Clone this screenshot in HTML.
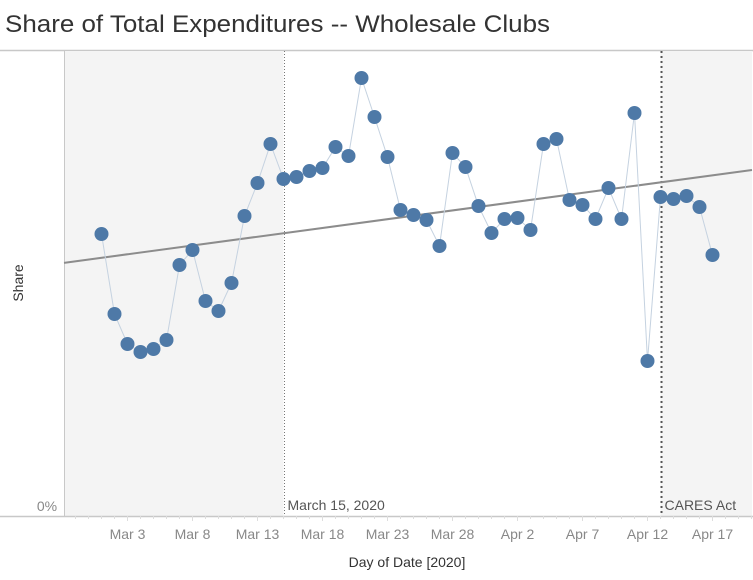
<!DOCTYPE html>
<html><head><meta charset="utf-8"><style>
body{margin:0;background:#fff;}
svg{display:block;font-family:"Liberation Sans",sans-serif;}
</style></head><body>
<svg id="chart" width="753" height="580">
<text x="5" y="32" font-size="24" fill="#333" textLength="545" lengthAdjust="spacingAndGlyphs">Share of Total Expenditures -- Wholesale Clubs</text>
<line x1="0" y1="50.5" x2="753" y2="50.5" stroke="#c8c8c8" stroke-width="1.5"/>
<g id="plot"></g>
<text x="47" y="511" font-size="14" fill="#888" text-anchor="middle">0%</text>
<text transform="translate(23,283) rotate(-90)" font-size="14" fill="#333" text-anchor="middle">Share</text>
<text x="407" y="567" font-size="14" fill="#333" text-anchor="middle">Day of Date [2020]</text>
</svg>
<script>
const dayLabels=["Mar 1","Mar 2","Mar 3","Mar 4","Mar 5","Mar 6","Mar 7","Mar 8","Mar 9","Mar 10","Mar 11","Mar 12","Mar 13","Mar 14","Mar 15","Mar 16","Mar 17","Mar 18","Mar 19","Mar 20","Mar 21","Mar 22","Mar 23","Mar 24","Mar 25","Mar 26","Mar 27","Mar 28","Mar 29","Mar 30","Mar 31","Apr 1","Apr 2","Apr 3","Apr 4","Apr 5","Apr 6","Apr 7","Apr 8","Apr 9","Apr 10","Apr 11","Apr 12","Apr 13","Apr 14","Apr 15","Apr 16","Apr 17"];
const shareValues=[0.282,0.202,0.172,0.164,0.167,0.176,0.251,0.266,0.215,0.205,0.233,0.300,0.333,0.372,0.337,0.339,0.345,0.348,0.369,0.360,0.438,0.399,0.359,0.306,0.301,0.296,0.270,0.363,0.349,0.310,0.283,0.297,0.298,0.286,0.372,0.377,0.316,0.311,0.297,0.328,0.297,0.403,0.155,0.319,0.317,0.320,0.309,0.261];
const tickIndices=[2,7,12,17,22,27,32,37,42,47];
const tickLabels=["Mar 3","Mar 8","Mar 13","Mar 18","Mar 23","Mar 28","Apr 2","Apr 7","Apr 12","Apr 17"];
const refLineIndices=[14,43];
const refLineLabels=["March 15, 2020","CARES Act"];

const NS="http://www.w3.org/2000/svg";
const g=document.getElementById('plot');
const L=64,R=752,T=51,B=516;
const x=i=>101.5+i*13;
const y=v=>B-v*1000;
function mk(t,a,p){const e=document.createElementNS(NS,t);for(const k in a)e.setAttribute(k,a[k]);(p||g).appendChild(e);return e;}

// shaded regions
let r1=mk('rect',{x:L,y:T,width:x(refLineIndices[0])-L,height:B-T,fill:'#f4f4f4'});


let r2=mk('rect',{x:x(refLineIndices[1]),y:T,width:R-x(refLineIndices[1]),height:B-T,fill:'#f4f4f4'});


let yl=mk('line',{x1:L+0.5,y1:T,x2:L+0.5,y2:B,stroke:'#c8c8c8','stroke-width':1});


let xl=mk('line',{x1:0,y1:B+0.5,x2:753,y2:B+0.5,stroke:'#c8c8c8','stroke-width':1.5});


// minor ticks
for(let i=-2;i<dayLabels.length+3;i++){const xx=x(i);if(xx<L||xx>R)continue;
 const t=mk('line',{x1:xx,y1:B,x2:xx,y2:B+(tickIndices.includes(i)?5:3),stroke:'#ddd'});
 
 }
tickIndices.forEach((ti,k)=>{const t=mk('text',{x:x(ti),y:539,'font-size':14,fill:'#888','text-anchor':'middle'});t.textContent=tickLabels[k];
 
 });
// reference lines
refLineIndices.forEach((ri,k)=>{const xx=Math.round(x(ri))+0.5;
 const l=mk('line',{x1:xx,y1:T,x2:xx,y2:B,stroke:k?'#555':'#777','stroke-width':k?2:1,'stroke-dasharray':k?'2,3':'1,2'});
 
 
 if(k){const bg=mk('rect',{x:xx+2,y:494,width:80,height:20,fill:'#f4f4f4'});}
 const t=mk('text',{x:xx+3,y:510,'font-size':14,fill:'#555'});t.textContent=refLineLabels[k];
 
 });
// trend line (linear regression)
const n=shareValues.length;let sx=0,sy=0,sxx=0,sxy=0;
shareValues.forEach((v,i)=>{sx+=i;sy+=v;sxx+=i*i;sxy+=i*v;});
const m=(n*sxy-sx*sy)/(n*sxx-sx*sx),b0=(sy-m*sx)/n;
const i0=(L-101.5)/13,i1=(R-101.5)/13;
const tl=mk('line',{x1:L,y1:y(b0+m*i0),x2:R,y2:y(b0+m*i1),stroke:'#8c8c8c','stroke-width':2});


// series line
const pl=mk('polyline',{points:shareValues.map((v,i)=>x(i)+','+y(v)).join(' '),fill:'none',stroke:'#c5d2e0','stroke-width':1});


shareValues.forEach((v,i)=>{const c=mk('circle',{cx:x(i),cy:y(v),r:7,fill:'#4e79a7'});
 
 });
</script>
</body></html>
